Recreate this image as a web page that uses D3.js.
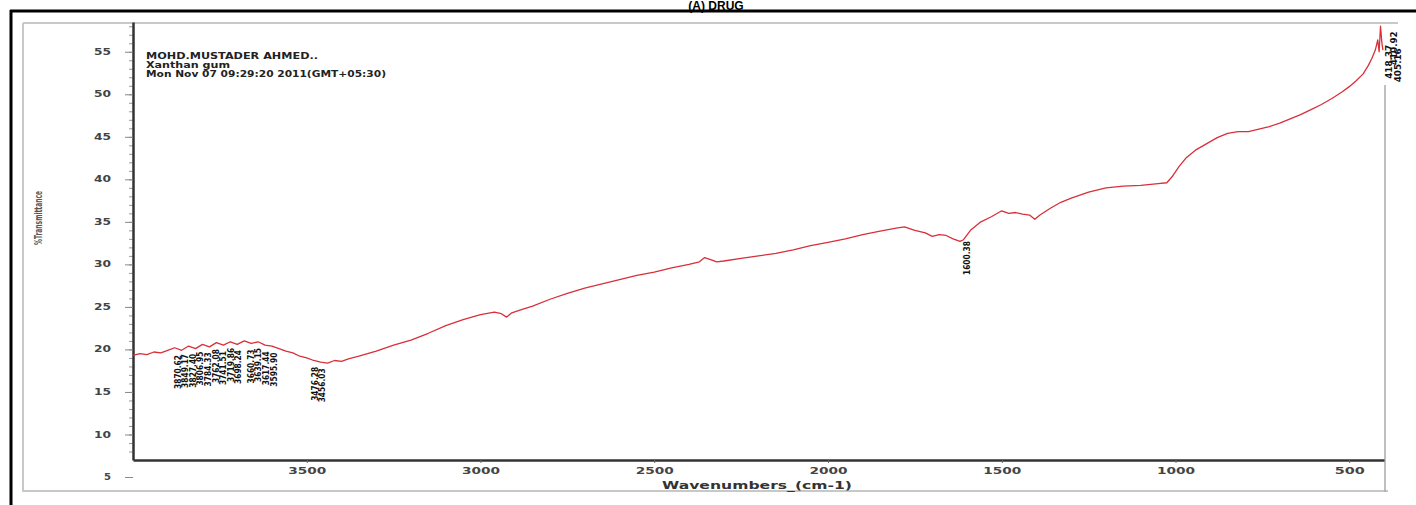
<!DOCTYPE html>
<html>
<head>
<meta charset="utf-8">
<script src="https://cdn.jsdelivr.net/npm/d3@7"></script>
<style>
  body { margin: 0; background: white; }
  svg { display: block; }
</style>
</head>
<body>
<div id="viz-container"></div>
<script>
let w = 1416;
let h = 505;

// spectrum (wavenumber cm-1, %T)
let wavenumbers = [4000, 3980, 3960, 3940, 3920, 3900, 3880, 3860, 3840, 3820, 3800, 3780, 3760, 3740, 3720, 3700,
  3680, 3660, 3640, 3620, 3600, 3580, 3560, 3540, 3520, 3500, 3480, 3460, 3440, 3420, 3400, 3380, 3350, 3300,
  3250, 3200, 3150, 3100, 3050, 3000, 2960, 2940, 2925, 2910, 2880, 2850, 2800, 2750, 2700, 2650, 2600, 2550,
  2500, 2450, 2400, 2370, 2355, 2340, 2320, 2300, 2250, 2200, 2150, 2100, 2050, 2000, 1950, 1900, 1850, 1800,
  1780, 1750, 1720, 1700, 1680, 1660, 1640, 1620, 1610, 1590, 1560, 1530, 1500, 1480, 1460, 1440, 1420, 1405,
  1390, 1360, 1330, 1300, 1250, 1200, 1150, 1100, 1050, 1025, 1010, 990, 970, 940, 910, 880, 850, 820, 790,
  760, 730, 700, 670, 640, 610, 580, 550, 520, 500, 480, 460, 445, 435, 425, 418, 414, 410, 406, 403];
let transmittance = [19.3, 19.5, 19.4, 19.7, 19.6, 19.9, 20.2, 19.9, 20.4, 20.1, 20.6, 20.3, 20.8, 20.5, 20.9, 20.6,
  21.0, 20.7, 20.9, 20.5, 20.4, 20.1, 19.8, 19.6, 19.2, 19.0, 18.7, 18.5, 18.4, 18.7, 18.6, 18.9, 19.2, 19.8,
  20.5, 21.1, 21.9, 22.8, 23.5, 24.1, 24.4, 24.2, 23.8, 24.3, 24.7, 25.1, 25.9, 26.6, 27.2, 27.7, 28.2, 28.7,
  29.1, 29.6, 30.0, 30.3, 30.8, 30.6, 30.3, 30.4, 30.7, 31.0, 31.3, 31.7, 32.2, 32.6, 33.0, 33.5, 33.9, 34.3,
  34.4, 34.0, 33.7, 33.3, 33.5, 33.4, 33.0, 32.7, 32.9, 34.0, 35.0, 35.6, 36.3, 36.0, 36.1, 35.9, 35.8, 35.3,
  35.8, 36.6, 37.3, 37.8, 38.5, 39.0, 39.2, 39.3, 39.5, 39.6, 40.3, 41.5, 42.5, 43.5, 44.2, 44.9, 45.4, 45.6, 45.6,
  45.9, 46.2, 46.6, 47.1, 47.6, 48.2, 48.8, 49.5, 50.3, 50.9, 51.6, 52.4, 53.4, 54.2, 55.2, 56.4, 55.0, 58.0, 56.0, 55.2];

let yTicks = [5, 10, 15, 20, 25, 30, 35, 40, 45, 50, 55];
let xTicks = [3500, 3000, 2500, 2000, 1500, 1000, 500];

let headerLines = ["MOHD.MUSTADER AHMED..", "Xanthan gum", "Mon Nov 07 09:29:20 2011(GMT+05:30)"];
let headerWidths = [172, 84, 240];

let peakWn = [3870, 3849, 3827, 3806, 3784, 3762, 3741, 3719, 3698, 3660, 3639, 3617, 3595, 3476, 3456, 1600];
let peakText = ["3870.62", "3849.17", "3827.40", "3806.95", "3784.33", "3762.08", "3741.51", "3719.86", "3698.24",
  "3660.73", "3639.15", "3617.44", "3595.90", "3476.28", "3456.03", "1600.38"];
let edgePeakWn = [418, 410, 406];
let edgePeakText = ["418.37", "410.92", "405.16"];

let viz = d3.select("#viz-container")
  .append("svg")
    .attr("width", w)
    .attr("height", h)
    .style("background-color", "white")
;

let x = d3.scaleLinear().domain([4000, 400]).range([133, 1384]);
let y = d3.scaleLinear().domain([7, 58.5]).range([460, 22]);

// scan frame
viz.append("line").attr("x1", 10).attr("x2", w).attr("y1", 11).attr("y2", 11)
  .attr("stroke", "black").attr("stroke-width", 3);
viz.append("line").attr("x1", 11).attr("x2", 11).attr("y1", 10).attr("y2", h)
  .attr("stroke", "black").attr("stroke-width", 3);
viz.append("path")
  .attr("d", "M23,23 H1398 M23,23 V491 H1388")
  .attr("fill", "none").attr("stroke", "#c8c8c8").attr("stroke-width", 2);
viz.append("line").attr("x1", 1385).attr("x2", 1385).attr("y1", 85).attr("y2", 492)
  .attr("stroke", "#aaa").attr("stroke-width", 1.5);

// title sitting on the top rule
viz.append("text")
  .attr("x", 716).attr("y", 9.5)
  .attr("text-anchor", "middle")
  .style("font-family", "Liberation Sans, Arial, sans-serif")
  .style("font-weight", "bold")
  .style("font-size", "12px")
  .text("(A) DRUG");

// y axis with minor ticks
let minor = d3.range(8, 59, 1);
viz.append("g")
  .attr("transform", "translate(133,0)")
  .call(d3.axisLeft(y).tickValues(minor).tickSize(4).tickFormat(""))
  .call(g => g.selectAll(".tick line").attr("stroke", "#999"))
  .call(g => g.select(".domain").remove());

let yAxis = viz.append("g")
  .attr("transform", "translate(133,0)")
  .call(d3.axisLeft(y).tickValues(yTicks).tickSize(8).tickPadding(14).tickSizeOuter(0).tickFormat(d3.format("d")));
yAxis.select(".domain").attr("stroke", "#333").attr("stroke-width", 2.5);
yAxis.selectAll(".tick line").attr("stroke", "#888");
yAxis.selectAll("text")
  .style("font-family", "DejaVu Sans, sans-serif")
  .style("font-weight", "bold")
  .style("font-size", "8px")
  .attr("fill", "#444")
  .attr("textLength", d => d < 10 ? 7 : 17)
  .attr("lengthAdjust", "spacingAndGlyphs");

// x axis
let xAxis = viz.append("g")
  .attr("transform", "translate(0,460)")
  .call(d3.axisBottom(x).tickValues(xTicks).tickSize(3).tickPadding(5).tickSizeOuter(0).tickFormat(d3.format("d")));
xAxis.select(".domain").attr("stroke", "#333").attr("stroke-width", 2.5);
xAxis.selectAll(".tick line").attr("stroke", "#666");
xAxis.selectAll("text")
  .style("font-family", "DejaVu Sans, sans-serif")
  .style("font-weight", "bold")
  .style("font-size", "8px")
  .attr("fill", "#444")
  .attr("textLength", d => d < 1000 ? 30 : 38)
  .attr("lengthAdjust", "spacingAndGlyphs");

viz.append("text")
  .attr("x", 757).attr("y", 489)
  .attr("text-anchor", "middle")
  .attr("textLength", 190)
  .attr("lengthAdjust", "spacingAndGlyphs")
  .style("font-family", "DejaVu Sans, sans-serif")
  .style("font-weight", "bold")
  .style("font-size", "10px")
  .attr("fill", "#333")
  .text("Wavenumbers_(cm-1)");

viz.append("text")
  .attr("transform", "translate(42,218) rotate(-90)")
  .attr("text-anchor", "middle")
  .attr("textLength", 54)
  .attr("lengthAdjust", "spacingAndGlyphs")
  .style("font-family", "DejaVu Sans, sans-serif")
  .style("font-weight", "bold")
  .style("font-size", "10px")
  .attr("fill", "#555")
  .text("%Transmittance");

// header block
viz.selectAll(".header").data(headerLines).enter()
  .append("text")
    .attr("class", "header")
    .attr("x", 146)
    .attr("y", (d, i) => 59 + i * 9)
    .attr("textLength", (d, i) => headerWidths[i])
    .attr("lengthAdjust", "spacingAndGlyphs")
    .style("font-family", "DejaVu Sans, sans-serif")
    .style("font-weight", "bold")
    .style("font-size", "9px")
    .attr("fill", "#222")
    .text(d => d);

// spectrum
let points = wavenumbers.map((wn, i) => [wn, transmittance[i]]);
let line = d3.line().x(d => x(d[0])).y(d => y(d[1]));
viz.append("path")
  .datum(points)
  .attr("d", line)
  .attr("fill", "none")
  .attr("stroke", "#d7303a")
  .attr("stroke-width", 1.3)
  .attr("stroke-linejoin", "round");

// curve value at a wavenumber
function valueAt(wn) {
  for (let i = 0; i < wavenumbers.length - 1; i++) {
    let a = wavenumbers[i], b = wavenumbers[i + 1];
    if (wn <= a && wn >= b) {
      let t = (a - wn) / (a - b);
      return transmittance[i] + t * (transmittance[i + 1] - transmittance[i]);
    }
  }
  return transmittance[transmittance.length - 1];
}

// peak labels
viz.selectAll(".peak").data(peakWn).enter()
  .append("text")
    .attr("class", "peak")
    .attr("transform", d => "translate(" + (x(d) + 3) + "," + (y(valueAt(d)) + 6) + ") rotate(-90)")
    .attr("text-anchor", "end")
    .attr("textLength", 34)
    .attr("lengthAdjust", "spacingAndGlyphs")
    .style("font-family", "DejaVu Sans, sans-serif")
    .style("font-weight", "bold")
    .style("font-size", "8px")
    .attr("fill", "#111")
    .text((d, i) => peakText[i]);

viz.selectAll(".edgepeak").data(edgePeakWn).enter()
  .append("text")
    .attr("class", "edgepeak")
    .attr("transform", (d, i) => "translate(" + (x(400) + 8 + i * 4.5) + "," + (y(valueAt(d)) + 5) + ") rotate(-90)")
    .attr("text-anchor", "end")
    .attr("textLength", 34)
    .attr("lengthAdjust", "spacingAndGlyphs")
    .style("font-family", "DejaVu Sans, sans-serif")
    .style("font-weight", "bold")
    .style("font-size", "8px")
    .attr("fill", "#111")
    .text((d, i) => edgePeakText[i]);
</script>
</body>
</html>
